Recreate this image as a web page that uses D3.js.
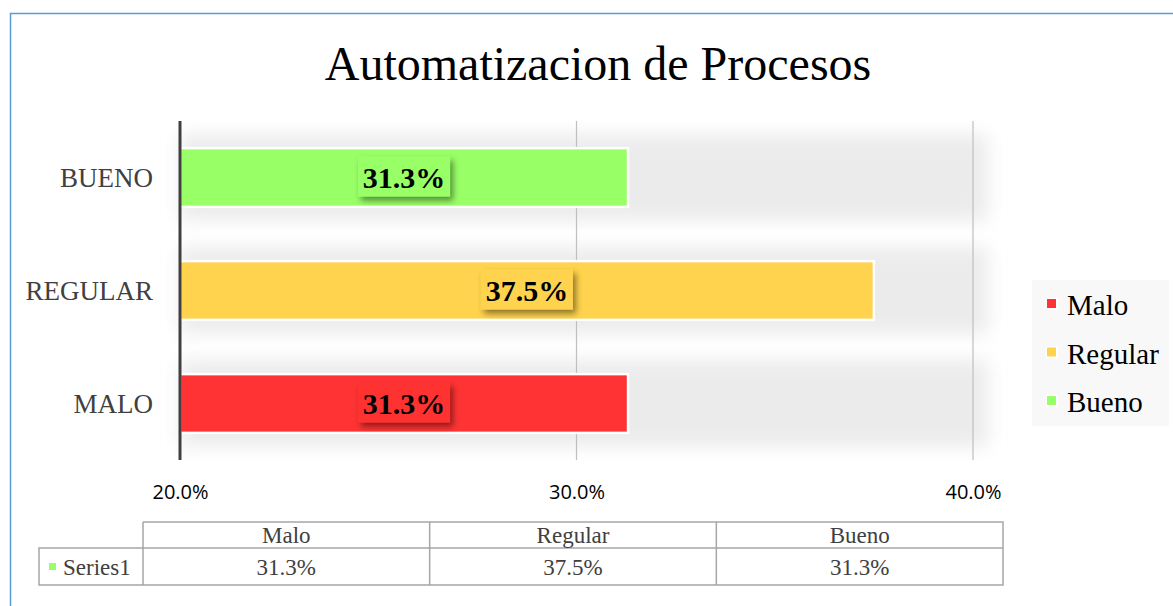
<!DOCTYPE html>
<html>
<head>
<meta charset="utf-8">
<script src="https://cdn.jsdelivr.net/npm/d3@7"></script>
<style>
  html, body { margin: 0; padding: 0; background: #fff; }
  svg { display: block; }
</style>
</head>
<body>
<div id="chart"></div>
<script>
// data
const categories = ["MALO", "REGULAR", "BUENO"];
const seriesNames = ["Malo", "Regular", "Bueno"];
const values = [31.3, 37.5, 31.3];
const colors = ["#ff3333", "#ffd34d", "#99ff66"];
const ticks = [20, 30, 40];
const tableSeries = "Series1";

const W = 1173, H = 606;
const serif = "'Liberation Serif', 'Times New Roman', serif";
const svg = d3.select("#chart").append("svg")
  .attr("width", W).attr("height", H);

const defs = svg.append("defs");
const sh = defs.append("filter").attr("id", "shadow")
  .attr("x", "-20%").attr("y", "-40%").attr("width", "150%").attr("height", "200%");
sh.append("feDropShadow").attr("dx", 3).attr("dy", 4).attr("stdDeviation", 3)
  .attr("flood-color", "#000").attr("flood-opacity", 0.45);
const bandBlur = defs.append("filter").attr("id", "band")
  .attr("x", "-10%").attr("y", "-60%").attr("width", "120%").attr("height", "220%");
bandBlur.append("feGaussianBlur").attr("stdDeviation", 9);

// outer frame
svg.append("rect").attr("x", 10.5).attr("y", 13.5)
  .attr("width", W + 20).attr("height", H + 20)
  .attr("fill", "none").attr("stroke", "#5b9bd5").attr("stroke-width", 1.5);

// title
svg.append("text").attr("x", 598).attr("y", 80)
  .attr("text-anchor", "middle")
  .style("font-family", serif)
  .style("font-size", "48px").attr("fill", "#000")
  .text("Automatizacion de Procesos");

const x = d3.scaleLinear().domain([20, 40]).range([180, 973]);
const y = d3.scaleBand().domain(categories.slice().reverse())
  .range([121, 460]).paddingInner(0.48).paddingOuter(0.24);

const plotTop = 121, plotBot = 460;

// soft shadow bands behind bars
svg.append("g").selectAll("rect").data(categories).join("rect")
  .attr("x", x(20)).attr("width", x(40) - x(20) + 15)
  .attr("y", d => y(d) - 14).attr("height", y.bandwidth() + 28)
  .attr("fill", "#e8e8e8").attr("opacity", 0.85).attr("filter", "url(#band)");

// gridlines
svg.append("g").selectAll("line").data(ticks.slice(1)).join("line")
  .attr("x1", d => x(d)).attr("x2", d => x(d))
  .attr("y1", plotTop).attr("y2", plotBot)
  .attr("stroke", "#bfbfbf").attr("stroke-width", 1.2);

// bars
const bars = svg.append("g").selectAll("g").data(categories).join("g");
bars.append("rect")
  .attr("x", x(20)).attr("y", d => y(d))
  .attr("width", (d, i) => x(values[i]) - x(20))
  .attr("height", y.bandwidth())
  .attr("fill", (d, i) => colors[i])
  .attr("stroke", "#fff").attr("stroke-width", 2.5);

// data labels
bars.each(function(d, i) {
  const g = d3.select(this);
  const cx = (x(20) + x(values[i])) / 2;
  const cy = y(d) + y.bandwidth() / 2;
  g.append("rect")
    .attr("x", cx - 46).attr("y", cy - 21)
    .attr("width", 92).attr("height", 40)
    .attr("fill", colors[i]).attr("filter", "url(#shadow)");
  g.append("text").attr("x", cx).attr("y", cy + 10)
    .attr("text-anchor", "middle")
    .style("font-family", serif)
    .style("font-size", "30px").style("font-weight", "bold")
    .attr("fill", "#000")
    .text(values[i].toFixed(1) + "%");
});

// category axis
svg.append("line").attr("x1", 180).attr("x2", 180)
  .attr("y1", plotTop).attr("y2", plotBot)
  .attr("stroke", "#404040").attr("stroke-width", 3);
svg.append("g").selectAll("text").data(categories).join("text")
  .attr("x", 153).attr("y", d => y(d) + y.bandwidth() / 2 + 9)
  .attr("text-anchor", "end")
  .style("font-family", serif)
  .style("font-size", "27px").attr("fill", "#404040")
  .text(d => d);

// value axis labels
const xAxis = svg.append("g").attr("transform", `translate(0,${plotBot})`)
  .call(d3.axisBottom(x).tickValues(ticks).tickSize(0).tickPadding(0)
    .tickFormat(d => d.toFixed(1) + "%"));
xAxis.select(".domain").remove();
xAxis.selectAll("text")
  .attr("y", 39).attr("dy", 0)
  .style("font-family", "'Open Sans', 'Liberation Sans', sans-serif")
  .style("font-size", "20px").attr("fill", "#000");

// legend
const lg = svg.append("g");
lg.append("rect").attr("x", 1032).attr("y", 280).attr("width", 137).attr("height", 146)
  .attr("fill", "#f8f8f8");
const li = lg.selectAll("g").data(seriesNames).join("g")
  .attr("transform", (d, i) => `translate(1047,${305 + i * 48.5})`);
li.append("rect").attr("x", -1).attr("y", -7).attr("width", 12).attr("height", 12).attr("fill", "#fff");
li.append("rect").attr("x", 0).attr("y", -6).attr("width", 9).attr("height", 9)
  .attr("fill", (d, i) => colors[i]);
li.append("text").attr("x", 20).attr("y", 10)
  .style("font-family", serif)
  .style("font-size", "29px").attr("fill", "#000")
  .text(d => d);

// data table
const colX = d3.scaleBand().domain(seriesNames).range([143, 1003]);
const tb = svg.append("g");
const tStroke = "#a6a6a6";
const r1 = 522, r2 = 548, r3 = 585;
tb.append("path")
  .attr("d", `M143,${r1}H1003V${r3}H39V${r2}H1003M143,${r1}V${r3}` +
    seriesNames.slice(1).map(s => `M${colX(s)},${r1}V${r3}`).join(""))
  .attr("fill", "none").attr("stroke", tStroke).attr("stroke-width", 1.5);
tb.selectAll(".hd").data(seriesNames).join("text").attr("class", "hd")
  .attr("x", d => colX(d) + colX.bandwidth() / 2).attr("y", r1 + 21)
  .attr("text-anchor", "middle")
  .style("font-family", serif)
  .style("font-size", "23px").attr("fill", "#404040")
  .text(d => d);
tb.selectAll(".vl").data(values).join("text").attr("class", "vl")
  .attr("x", (d, i) => colX(seriesNames[i]) + colX.bandwidth() / 2).attr("y", r2 + 27)
  .attr("text-anchor", "middle")
  .style("font-family", serif)
  .style("font-size", "23px").attr("fill", "#404040")
  .text(d => d.toFixed(1) + "%");
tb.append("rect").attr("x", 49).attr("y", 563).attr("width", 7).attr("height", 7)
  .attr("fill", colors[2]);
tb.append("text").attr("x", 63).attr("y", r2 + 27)
  .style("font-family", serif)
  .style("font-size", "23px").attr("fill", "#404040")
  .text(tableSeries);
</script>
</body>
</html>
